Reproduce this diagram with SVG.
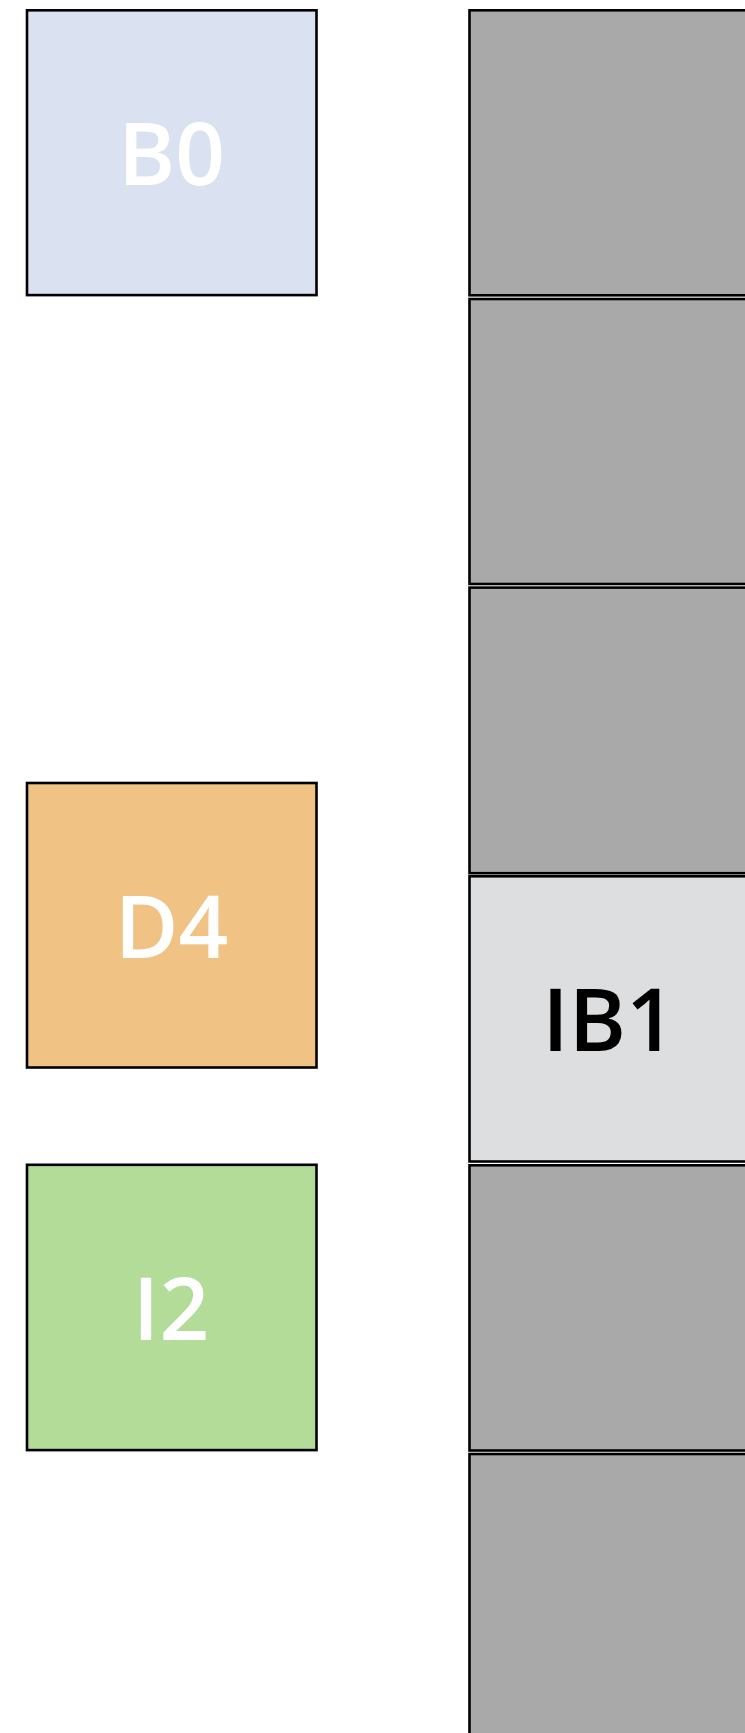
<svg xmlns="http://www.w3.org/2000/svg" width="745" height="1733" viewBox="0 0 745 1733">
<style>
.box{stroke:#000;stroke-width:2.6}
.lbl{font-family:"Open Sans","Noto Sans","DejaVu Sans",sans-serif;font-weight:600;font-size:87px;text-anchor:middle}
.w{fill:#fff}
.k{fill:#000}
</style>
<rect width="745" height="1733" fill="#fff"/>
<g id="col">
<rect class="box" x="469.5" y="10.3" width="290" height="285" fill="#a9a9a9"/>
<rect class="box" x="469.5" y="299" width="290" height="285" fill="#a9a9a9"/>
<rect class="box" x="469.5" y="587.6" width="290" height="285.6" fill="#a9a9a9"/>
<rect class="box" x="469.5" y="1165.3" width="290" height="285.2" fill="#a9a9a9"/>
<rect class="box" x="469.5" y="1454" width="290" height="290" fill="#a9a9a9"/>
</g>
<g id="IB1">
<rect class="box" x="469.5" y="876.3" width="290" height="285.2" fill="#dddee0"/>
<text class="lbl k" x="609" y="1051">IB1</text>
</g>
<g id="B0">
<rect class="box" x="27" y="10.3" width="289.5" height="284.8" fill="#dae1f0"/>
<text class="lbl w" x="171.5" y="185">B0</text>
</g>
<g id="D4">
<rect class="box" x="27" y="783" width="289.5" height="284.5" fill="#f0c385"/>
<text class="lbl w" x="171.5" y="957.5">D4</text>
</g>
<g id="I2">
<rect class="box" x="27" y="1164.8" width="289.5" height="285.3" fill="#b3dc98"/>
<text class="lbl w" x="171" y="1339.5">I2</text>
</g>
<g id="connectors"></g>
</svg>
